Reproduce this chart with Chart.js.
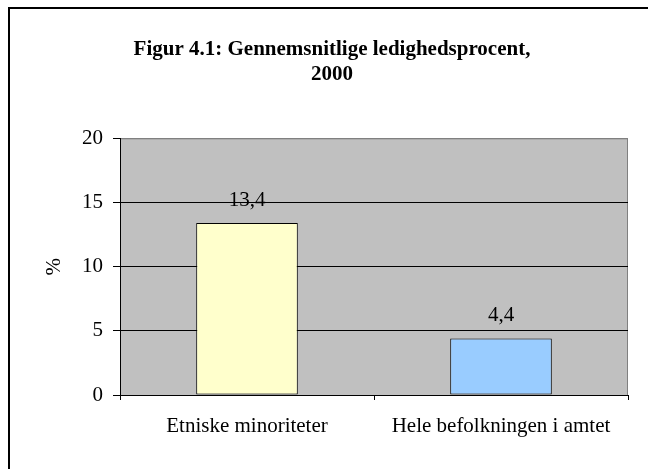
<!DOCTYPE html>
<html>
<head>
<meta charset="utf-8">
<script src="https://cdn.jsdelivr.net/npm/chart.js@4/dist/chart.umd.min.js"></script>
<style>
  body { margin: 0; background: #fff; }
  #frame { position: absolute; left: 8px; top: 7px; width: 700px; height: 500px;
           border-left: 2px solid #000; border-top: 2px solid #000; }
  #wrap { position: absolute; left: 0; top: 0; width: 648px; height: 469px; }
</style>
</head>
<body>
<div id="frame"></div>
<div id="wrap"><canvas id="chart"></canvas></div>
<script>
// data
const categories = ['Etniske minoriteter', 'Hele befolkningen i amtet'];
const values = [13.4, 4.4];
const barColors = ['#FFFFCC', '#99CCFF'];
const titleLines = ['Figur 4.1: Gennemsnitlige ledighedsprocent,', '2000'];

const serif = "'Liberation Serif', 'Times New Roman', serif";

// grey plot background + top/right frame
const plotBg = {
  id: 'plotBg',
  beforeDraw(chart) {
    const { ctx, chartArea: a } = chart;
    ctx.save();
    ctx.fillStyle = '#C0C0C0';
    ctx.fillRect(a.left, a.top, a.right - a.left, a.bottom - a.top);
    ctx.strokeStyle = '#808080';
    ctx.lineWidth = 1;
    ctx.beginPath();
    ctx.moveTo(a.left, a.top + 0.5);
    ctx.lineTo(a.right - 0.5, a.top + 0.5);
    ctx.lineTo(a.right - 0.5, a.bottom);
    ctx.stroke();
    ctx.restore();
  }
};

// value labels above bars, comma decimal
const barLabels = {
  id: 'barLabels',
  afterDatasetsDraw(chart) {
    const { ctx } = chart;
    const meta = chart.getDatasetMeta(0);
    ctx.save();
    ctx.font = '21px ' + serif;
    ctx.fillStyle = '#000';
    ctx.textAlign = 'center';
    ctx.textBaseline = 'middle';
    meta.data.forEach((bar, i) => {
      ctx.fillText(values[i].toFixed(1).replace('.', ','), bar.x, bar.y - 23);
    });
    ctx.restore();
  }
};

new Chart(document.getElementById('chart'), {
  type: 'bar',
  data: {
    labels: categories,
    datasets: [{
      data: values,
      backgroundColor: barColors,
      borderColor: '#000',
      borderWidth: 1,
      borderSkipped: false,
      barPercentage: 0.4,
      categoryPercentage: 1
    }]
  },
  options: {
    responsive: true,
    maintainAspectRatio: false,
    animation: false,
    layout: { padding: { left: 36, right: 20, top: 0, bottom: 0 } },
    plugins: {
      legend: { display: false },
      tooltip: { enabled: false },
      title: {
        display: true,
        text: titleLines,
        color: '#000',
        font: { family: serif, size: 21, weight: 'bold', lineHeight: 1.15 },
        padding: { top: 38, bottom: 52 }
      }
    },
    scales: {
      x: {
        grid: { display: true, drawOnChartArea: false, offset: true, tickLength: 5, tickColor: '#000' },
        border: { color: '#000', width: 1 },
        ticks: { color: '#000', font: { family: serif, size: 21 }, padding: 14, maxRotation: 0 },
        afterFit(scale) { scale.height = 74; }
      },
      y: {
        min: 0,
        max: 20,
        ticks: { stepSize: 5, color: '#000', font: { family: serif, size: 21 }, padding: 10 },
        grid: {
          color: (c) => (c.tick && c.tick.value === 20 ? '#808080' : '#000'),
          tickColor: '#000',
          tickLength: 7
        },
        border: { color: '#000', width: 1 },
        title: {
          display: true,
          text: '%',
          color: '#000',
          font: { family: serif, size: 21 },
          padding: { top: 6, bottom: 0 }
        },
        afterFit(scale) { scale.width = 84; }
      }
    }
  },
  plugins: [plotBg, barLabels]
});
</script>
</body>
</html>
